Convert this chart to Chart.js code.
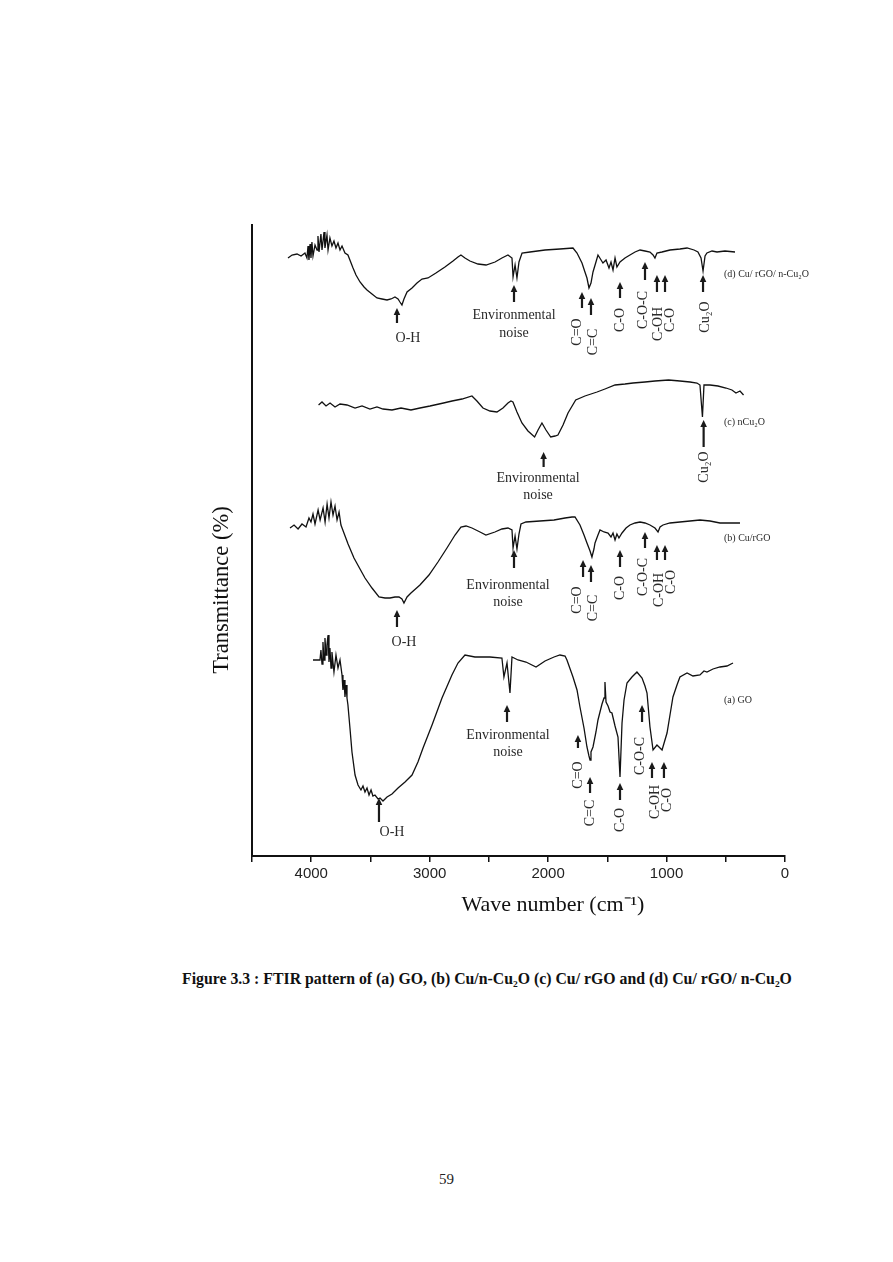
<!DOCTYPE html>
<html>
<head>
<meta charset="utf-8">
<script src="https://cdn.jsdelivr.net/npm/chart.js@4.4.1/dist/chart.umd.min.js"></script>
<style>
  body { margin: 0; background: #fff; width: 893px; height: 1262px; position: relative; }
  #wrap { position: absolute; left: 0; top: 0; width: 893px; height: 960px; }
  .caption { position: absolute; left: 182px; top: 970px; white-space: nowrap;
             font: bold 15.8px "Liberation Serif", serif; color: #111; }
  .pageno { position: absolute; left: 0; width: 893px; top: 1171px; text-align: center;
            font: 15px "Liberation Serif", serif; color: #222; }
</style>
</head>
<body>
<div id="wrap"><canvas id="ftir"></canvas></div>
<div class="caption">Figure 3.3 : FTIR pattern of (a) GO, (b) Cu/n-Cu₂O (c) Cu/ rGO and (d) Cu/ rGO/ n-Cu₂O</div>
<div class="pageno">59</div>

<script>
// spectra: wavenumber (cm-1) and stacked transmittance (arbitrary offset units)
const goWave = [3985,3926,3918,3909,3901,3892,3884,3875,3867,3858,3850,3842,3833,3825,3808,3791,3774,3757,3740,3732,3723,3715,3706,3698,3690,3673,3656,3630,3605,3580,3563,3546,3529,3512,3495,3479,3462,3436,3419,3394,3360,3318,3267,3208,3149,3099,3056,2980,2896,2812,2761,2702,
                2618,2491,2390,2373,2347,2322,2305,2254,2187,2102,2026,1950,1900,1857,1841,1790,1756,1731,1697,1672,1655,1646,1638,1621,1596,1579,1562,1545,1528,1520,1511,1494,1477,1461,1435,1410,1393,1376,1359,1334,1292,1250,1207,1182,1165,1140,1114,1081,1038,996,971,946,912,887,827,777,718,684,659,608,549,490,439];
const goTrans = [196,196,206,192,214,196,218,201,211,221,194,208,188,204,184,201,188,196,181,166,176,159,171,158,151,128,104,81,71,66,70,64,68,61,66,60,61,57,58,55,59,62,68,74,81,94,108,131,158,181,193,201,
                 199,199,198,179,193,163,199,196,194,189,195,199,201,200,196,179,166,149,128,109,100,96,104,109,124,136,144,152,158,174,154,150,144,143,130,119,79,133,156,173,179,184,178,170,163,129,106,111,106,123,141,159,171,179,183,180,181,185,184,187,189,190,193];

const cuRgoWave = [4179,4145,4111,4078,4044,4019,4002,3985,3968,3942,3925,3900,3883,3866,3850,3833,3816,3799,3782,3765,3749,3727,3689,3639,3588,3546,3487,3428,3377,3335,3293,3259,3234,3217,3191,3158,3082,3006,2930,2854,2786,2736,2693,2643,2575,2525,2449,2390,2339,2305,2296,2279,2263,2246,2229,2187,2069,1950,1857,1798,1773,1731,1697,1672,1646,1630,1613,1604,1579,1562,1528,1494,1469,1452,1435,1419,1402,1376,1342,1309,1266,1224,1182,1140,1098,1072,1055,1030,971,887,802,718,633,549,464,380];
const cuRgoTrans = [328,331,327,332,329,338,334,342,332,346,336,348,334,352,338,354,341,350,336,344,331,324,312,298,287,278,268,259,258,258,259,259,257,253,259,263,271,281,294,308,321,329,330,328,324,321,324,327,328,326,308,320,307,322,332,334,335,336,338,339,339,331,321,313,305,299,307,313,321,326,324,323,319,323,316,322,318,323,328,331,333,334,333,331,328,324,329,331,333,334,335,336,335,333,333,333];

const nCu2oWave = [3938,3909,3875,3841,3799,3757,3698,3630,3571,3504,3445,3394,3318,3242,3158,3082,2997,2883,2811,2727,2643,2601,2550,2491,2432,2381,2339,2314,2297,2263,2221,2170,2114,2085,2052,2018,1978,1942,1917,1874,1832,1767,1689,1587,1520,1435,1351,1283,1182,1098,983,887,802,743,718,697,684,633,566,498,448,414,380,350];
const nCu2oTrans = [451,454,450,453,449,452,451,448,450,447,449,447,446,448,446,448,450,453,455,457,460,455,448,445,444,448,453,455,454,444,433,425,419,426,433,426,419,420,421,431,443,456,460,464,467,471,472,473,474,475,476,475,474,473,471,439,471,471,470,468,466,463,465,461];

const cuRgoCu2oWave = [4196,4162,4120,4086,4053,4036,4027,4019,4010,4002,3994,3985,3968,3951,3943,3934,3918,3909,3892,3884,3867,3858,3842,3825,3808,3791,3774,3757,3740,3715,3690,3647,3622,3588,3554,3529,3487,3445,3402,3360,3326,3293,3267,3251,3234,3217,3191,3149,3107,3065,3014,2947,2871,2803,2761,2736,
                       2702,2660,2592,2524,2448,2390,2339,2305,2296,2279,2263,2246,2220,2153,2026,1900,1790,1756,1714,1689,1672,1655,1638,1621,1596,1579,1537,1511,1486,1469,1452,1435,1419,1393,1351,1309,1266,1224,1182,1140,1114,1098,1081,1039,971,887,827,768,735,709,692,675,659,616,574,507,422];
const cuRgoCu2oTrans = [598,601,602,600,603,598,610,596,612,598,614,600,611,606,620,604,622,606,624,608,621,606,618,610,615,608,613,606,610,603,601,588,581,574,569,566,562,558,557,556,557,559,557,554,551,557,564,568,573,577,578,583,589,595,599,601,
                        598,595,592,591,594,598,601,598,579,591,578,594,603,604,606,607,608,603,593,584,578,568,573,584,594,601,593,596,588,594,586,598,589,594,598,601,604,606,605,604,601,598,603,604,606,607,608,606,604,598,585,600,603,605,604,605,604];

const xTickLabels = [4000, 3000, 2000, 1000, 0];

// band assignment arrows: [wavenumber, head value, tail value]
const arrowMarks = [
  [3276,548,533],[2288,571,554],[1714,564,548],[1638,558,541],[1393,574,558],[1182,594,576],[1081,581,564],[1013,581,564],[692,581,564],
  [2038,404,389],[687,436,409],
  [3276,246,229],[2288,306,288],[1705,296,279],[1638,291,274],[1393,306,289],[1182,324,308],[1081,311,296],[1013,311,296],
  [3428,58,34],[2347,151,134],[1748,121,108],[1646,79,63],[1393,73,56],[1207,151,134],[1123,94,78],[1022,94,78]
];

// band labels: [text, wavenumber, value, rotated]
const bandLabels = [
  ['O-H',3183,518,false],['Environmental',2288,541,false],['noise',2288,523,false],['C=O',1756,524,true],['C=C',1621,514,true],
  ['C-O',1393,536,true],['C-O-C',1199,546,true],['C-OH',1072,532,true],['C-O',971,536,true],['Cu₂O',675,539,true],
  ['Environmental',2085,378,false],['noise',2085,361,false],['Cu₂O',684,389,true],
  ['O-H',3217,214,false],['Environmental',2339,271,false],['noise',2339,254,false],['C=O',1756,256,true],['C=C',1621,248,true],
  ['C-O',1393,268,true],['C-O-C',1199,279,true],['C-OH',1064,266,true],['C-O',963,274,true],
  ['O-H',3318,24,false],['Environmental',2339,121,false],['noise',2339,104,false],['C=O',1748,81,true],['C=C',1646,43,true],
  ['C-O',1393,36,true],['C-O-C',1224,100,true],['C-OH',1098,54,true],['C-O',996,56,true]
];

const sampleNames = ['(d) Cu/ rGO/ n-Cu₂O', '(c) nCu₂O', '(b) Cu/rGO', '(a) GO'];
const sampleNameY = [582, 434, 318, 156];
const sampleNameX = 515;

function toPoints(wave, trans) {
    return wave.map((w, i) => ({ x: w, y: trans[i] }));
}

// arrows, band names, sample names and the two axis titles
const peakLabels = {
    id: 'peakLabels',
    afterDatasetsDraw(chart) {
        const { ctx, chartArea, scales: { x, y } } = chart;
        ctx.save();
        ctx.fillStyle = '#1a1a1a';
        ctx.strokeStyle = '#1a1a1a';
        arrowMarks.forEach(([wn, head, tail]) => {
            const px  = x.getPixelForValue(wn);
            const top = y.getPixelForValue(head);
            const bot = y.getPixelForValue(tail);
            ctx.lineWidth = 2.2;
            ctx.beginPath();
            ctx.moveTo(px, bot);
            ctx.lineTo(px, top + 5);
            ctx.stroke();
            ctx.beginPath();
            ctx.moveTo(px, top);
            ctx.lineTo(px - 3.3, top + 7);
            ctx.lineTo(px + 3.3, top + 7);
            ctx.closePath();
            ctx.fill();
        });

        ctx.fillStyle = '#2a2a2a';
        ctx.font = '14px "Liberation Serif", serif';
        ctx.textAlign = 'center';
        ctx.textBaseline = 'middle';
        bandLabels.forEach(([text, wn, val, rot]) => {
            const px = x.getPixelForValue(wn);
            const py = y.getPixelForValue(val);
            if (rot) {
                ctx.save();
                ctx.translate(px, py);
                ctx.rotate(-Math.PI / 2);
                ctx.fillText(text, 0, 0);
                ctx.restore();
            } else {
                ctx.fillText(text, px, py);
            }
        });

        ctx.font = '10px "Liberation Serif", serif';
        ctx.textAlign = 'left';
        sampleNames.forEach((name, i) => {
            ctx.fillText(name, x.getPixelForValue(sampleNameX), y.getPixelForValue(sampleNameY[i]));
        });

        ctx.fillStyle = '#111';
        ctx.textAlign = 'center';
        ctx.font = '22px "Liberation Serif", serif';
        ctx.fillText('Wave number (cm⁻¹)', chartArea.left + 301, chartArea.bottom + 49);
        ctx.save();
        ctx.translate(chartArea.left - 30, chartArea.top + 365);
        ctx.rotate(-Math.PI / 2);
        ctx.font = '22.5px "Liberation Serif", serif';
        ctx.fillText('Transmittance (%)', 0, 0);
        ctx.restore();
        ctx.restore();
    }
};

const lineStyle = { borderColor: '#111', borderWidth: 1.3, pointRadius: 0, fill: false, tension: 0 };

new Chart(document.getElementById('ftir'), {
    type: 'line',
    data: {
        datasets: [
            { label: '(a) GO', data: toPoints(goWave, goTrans), ...lineStyle },
            { label: '(b) Cu/rGO', data: toPoints(cuRgoWave, cuRgoTrans), ...lineStyle },
            { label: '(c) nCu2O', data: toPoints(nCu2oWave, nCu2oTrans), ...lineStyle },
            { label: '(d) Cu/ rGO/ n-Cu2O', data: toPoints(cuRgoCu2oWave, cuRgoCu2oTrans), ...lineStyle }
        ]
    },
    options: {
        responsive: true,
        maintainAspectRatio: false,
        animation: false,
        layout: { padding: { left: 200, right: 108, top: 225, bottom: 30 } },
        plugins: { legend: { display: false }, tooltip: { enabled: false } },
        scales: {
            x: {
                type: 'linear',
                reverse: true,
                min: 0,
                max: 4500,
                ticks: {
                    stepSize: 500,
                    autoSkip: false,
                    maxRotation: 0,
                    padding: 3,
                    color: '#222',
                    font: { family: '"Liberation Sans", Arial, sans-serif', size: 15 },
                    callback: (v) => xTickLabels.includes(v) ? String(v) : ''
                },
                grid: { drawOnChartArea: false, drawTicks: true, tickLength: 6, color: '#111', lineWidth: 1.5 },
                border: { display: true, color: '#111', width: 2 },
                afterFit: (s) => { s.height = 74; }
            },
            y: {
                min: 0,
                max: 631,
                ticks: { display: false },
                grid: { drawOnChartArea: false, drawTicks: false },
                border: { display: true, color: '#111', width: 2 },
                afterFit: (s) => { s.width = 52; }
            }
        }
    },
    plugins: [peakLabels]
});
</script>
</body>
</html>
